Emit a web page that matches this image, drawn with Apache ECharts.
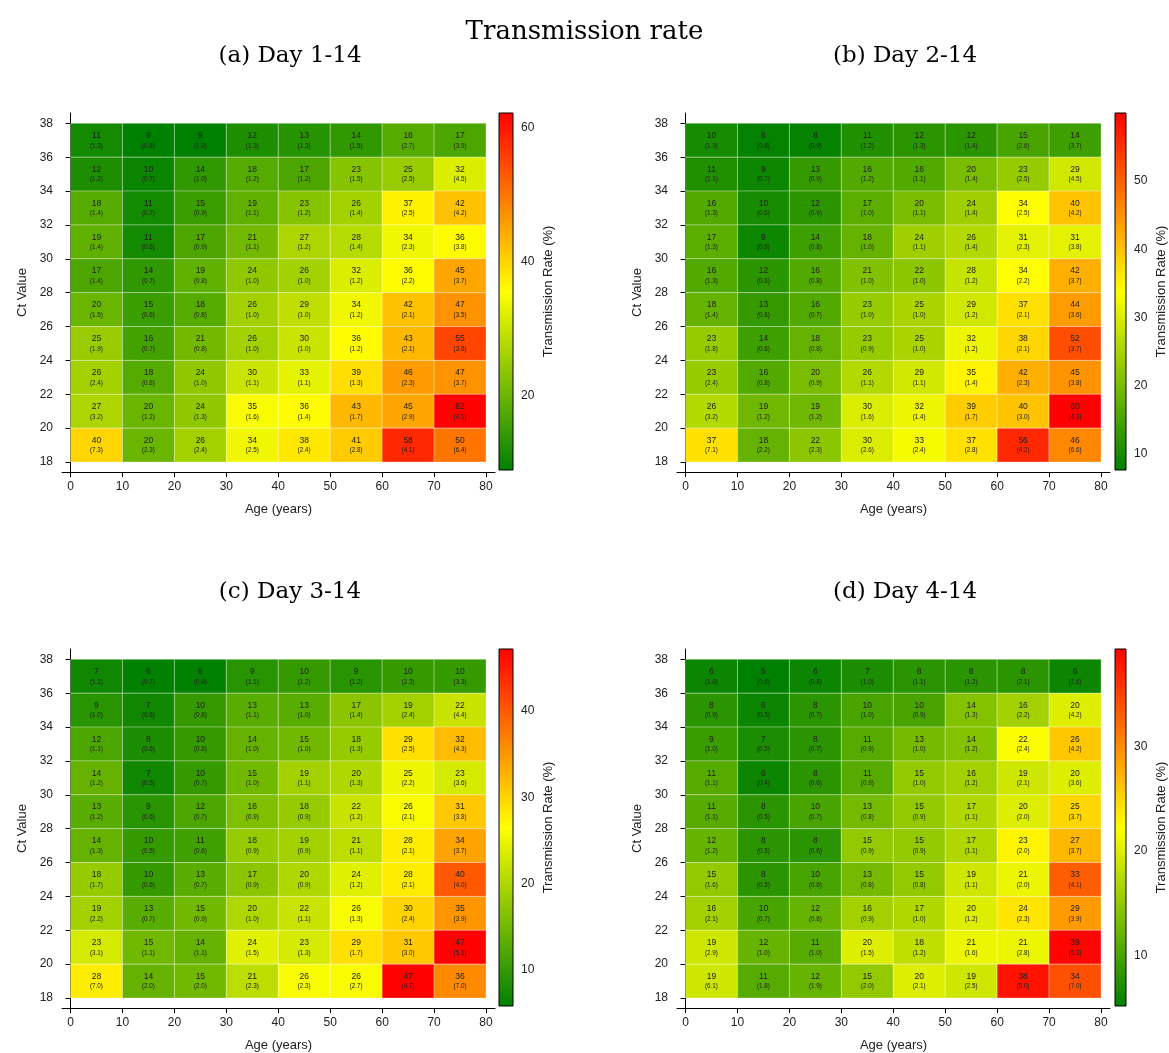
<!DOCTYPE html>
<html><head><meta charset="utf-8">
<script src="https://cdn.jsdelivr.net/npm/echarts@6/dist/echarts.min.js"></script>
<style>html,body{margin:0;padding:0;background:#fff}#c{width:1169px;height:1053px}</style>
</head><body><div id="c"></div>
<script>
// ---- data ----
const ageBins = [0, 10, 20, 30, 40, 50, 60, 70];          // bin starts (width 10)
const ctBins = [36, 34, 32, 30, 28, 26, 24, 22, 20, 18];  // bin starts (width 2), top row first
const xTicks = [0, 10, 20, 30, 40, 50, 60, 70, 80];
const yTicks = [18, 20, 22, 24, 26, 28, 30, 32, 34, 36, 38];
const panelTitles = ['(a) Day 1-14', '(b) Day 2-14', '(c) Day 3-14', '(d) Day 4-14'];

const rateA = [
  [11, 9, 9, 12, 13, 14, 18, 17],
  [12, 10, 14, 18, 17, 23, 25, 32],
  [18, 11, 15, 19, 23, 26, 37, 42],
  [19, 11, 17, 21, 27, 28, 34, 36],
  [17, 14, 19, 24, 26, 32, 36, 45],
  [20, 15, 18, 26, 29, 34, 42, 47],
  [25, 16, 21, 26, 30, 36, 43, 55],
  [26, 18, 24, 30, 33, 39, 46, 47],
  [27, 20, 24, 35, 36, 43, 45, 62],
  [40, 20, 26, 34, 38, 41, 58, 50]
];
const seA = [
  [1.3, 0.8, 1.0, 1.3, 1.3, 1.5, 2.7, 3.9],
  [1.2, 0.7, 1.0, 1.2, 1.2, 1.5, 2.5, 4.5],
  [1.4, 0.7, 0.9, 1.1, 1.2, 1.4, 2.5, 4.2],
  [1.4, 0.6, 0.9, 1.1, 1.2, 1.4, 2.3, 3.8],
  [1.4, 0.7, 0.8, 1.0, 1.0, 1.2, 2.2, 3.7],
  [1.5, 0.6, 0.8, 1.0, 1.0, 1.2, 2.1, 3.5],
  [1.9, 0.7, 0.8, 1.0, 1.0, 1.2, 2.1, 3.6],
  [2.4, 0.8, 1.0, 1.1, 1.1, 1.3, 2.3, 3.7],
  [3.2, 1.2, 1.3, 1.6, 1.4, 1.7, 2.9, 4.1],
  [7.3, 2.3, 2.4, 2.5, 2.4, 2.8, 4.1, 6.4]
];
const rateB = [
  [10, 8, 8, 11, 12, 12, 15, 14],
  [11, 9, 13, 16, 16, 20, 23, 29],
  [16, 10, 12, 17, 20, 24, 34, 40],
  [17, 9, 14, 18, 24, 26, 31, 31],
  [16, 12, 16, 21, 22, 28, 34, 42],
  [18, 13, 16, 23, 25, 29, 37, 44],
  [23, 14, 18, 23, 25, 32, 38, 52],
  [23, 16, 20, 26, 29, 35, 42, 45],
  [26, 19, 19, 30, 32, 39, 40, 60],
  [37, 18, 22, 30, 33, 37, 56, 46]
];
const seB = [
  [1.3, 0.8, 0.9, 1.2, 1.3, 1.4, 2.6, 3.7],
  [1.1, 0.7, 0.9, 1.2, 1.1, 1.4, 2.5, 4.5],
  [1.3, 0.6, 0.9, 1.0, 1.1, 1.4, 2.5, 4.2],
  [1.3, 0.6, 0.8, 1.0, 1.1, 1.4, 2.3, 3.8],
  [1.3, 0.6, 0.8, 1.0, 1.0, 1.2, 2.2, 3.7],
  [1.4, 0.6, 0.7, 1.0, 1.0, 1.2, 2.1, 3.6],
  [1.8, 0.6, 0.8, 0.9, 1.0, 1.2, 2.1, 3.7],
  [2.4, 0.8, 0.9, 1.1, 1.1, 1.4, 2.3, 3.8],
  [3.2, 1.2, 1.2, 1.6, 1.4, 1.7, 3.0, 4.3],
  [7.1, 2.2, 2.3, 2.6, 2.4, 2.8, 4.2, 6.6]
];
const rateC = [
  [7, 6, 6, 9, 10, 9, 10, 10],
  [9, 7, 10, 13, 13, 17, 19, 22],
  [12, 8, 10, 14, 15, 18, 29, 32],
  [14, 7, 10, 15, 19, 20, 25, 23],
  [13, 9, 12, 16, 18, 22, 26, 31],
  [14, 10, 11, 18, 19, 21, 28, 34],
  [18, 10, 13, 17, 20, 24, 28, 40],
  [19, 13, 15, 20, 22, 26, 30, 35],
  [23, 15, 14, 24, 23, 29, 31, 47],
  [28, 14, 15, 21, 26, 26, 47, 36]
];
const seC = [
  [1.1, 0.7, 0.9, 1.1, 1.2, 1.2, 2.3, 3.3],
  [1.0, 0.6, 0.8, 1.1, 1.0, 1.4, 2.4, 4.4],
  [1.1, 0.6, 0.8, 1.0, 1.0, 1.3, 2.5, 4.3],
  [1.2, 0.5, 0.7, 1.0, 1.1, 1.3, 2.2, 3.6],
  [1.2, 0.6, 0.7, 0.9, 0.9, 1.2, 2.1, 3.8],
  [1.3, 0.5, 0.6, 0.9, 0.9, 1.1, 2.1, 3.7],
  [1.7, 0.6, 0.7, 0.9, 0.9, 1.2, 2.1, 4.0],
  [2.2, 0.7, 0.9, 1.0, 1.1, 1.3, 2.4, 3.9],
  [3.1, 1.1, 1.1, 1.5, 1.3, 1.7, 3.0, 5.1],
  [7.0, 2.0, 2.0, 2.3, 2.3, 2.7, 4.7, 7.0]
];
const rateD = [
  [6, 5, 6, 7, 8, 8, 8, 6],
  [8, 6, 8, 10, 10, 14, 16, 20],
  [9, 7, 8, 11, 13, 14, 22, 26],
  [11, 6, 8, 11, 15, 16, 19, 20],
  [11, 8, 10, 13, 15, 17, 20, 25],
  [12, 8, 8, 15, 15, 17, 23, 27],
  [15, 8, 10, 13, 15, 19, 21, 33],
  [16, 10, 12, 16, 17, 20, 24, 29],
  [19, 12, 11, 20, 18, 21, 21, 39],
  [19, 11, 12, 15, 20, 19, 38, 34]
];
const seD = [
  [1.0, 0.6, 0.8, 1.0, 1.1, 1.2, 2.1, 2.6],
  [0.9, 0.5, 0.7, 1.0, 0.9, 1.3, 2.2, 4.2],
  [1.0, 0.5, 0.7, 0.9, 1.0, 1.2, 2.4, 4.2],
  [1.1, 0.4, 0.6, 0.9, 1.0, 1.2, 2.1, 3.6],
  [1.1, 0.5, 0.7, 0.8, 0.9, 1.1, 2.0, 3.7],
  [1.2, 0.5, 0.6, 0.9, 0.9, 1.1, 2.0, 3.7],
  [1.6, 0.5, 0.6, 0.8, 0.8, 1.1, 2.0, 4.1],
  [2.1, 0.7, 0.8, 0.9, 1.0, 1.2, 2.3, 3.9],
  [2.9, 1.0, 1.0, 1.5, 1.2, 1.6, 2.8, 5.3],
  [6.1, 1.8, 1.9, 2.0, 2.1, 2.5, 5.0, 7.0]
];
// colour-scale ranges and colourbar ticks
const colorMin = [9.0, 7.6, 5.8, 5.2];
const colorMax = [62.2, 60.0, 47.2, 39.3];
const cbarTicks = [[20, 40, 60], [10, 20, 30, 40, 50], [10, 20, 30, 40], [10, 20, 30]];

const rates = [rateA, rateB, rateC, rateD];
const ses = [seA, seB, seC, seD];

// ---- layout ----
const offX = [0, 615, 0, 615];
const offY = [0, 0, 536, 536];
const FONT = 'Liberation Sans, Arial, sans-serif';
const SERIF = 'DejaVu Serif, serif';
const cmap = ['#008000', '#ffff00', '#ff0000'];

const grids = [], xAxes = [], yAxes = [], series = [], visualMaps = [], titles = [];

titles.push({text: 'Transmission rate', left: 'center', top: 14,
  textStyle: {fontFamily: SERIF, fontSize: 26, fontWeight: 'normal', color: '#000'}});

for (let p = 0; p < 4; p++) {
  const ox = offX[p], oy = offY[p];
  titles.push({text: panelTitles[p], left: 285 + ox, top: 40 + oy, textAlign: 'center',
    textStyle: {fontFamily: SERIF, fontSize: 23, fontWeight: 'normal', color: '#000'}});

  // heatmap grid
  const gi = grids.length;
  grids.push({left: 62 + ox, top: 113 + oy, width: 433, height: 359});
  xAxes.push({type: 'value', gridIndex: gi, min: -1.64, max: 81.73,
    axisLine: {show: true, lineStyle: {color: '#000', width: 1}},
    axisTick: {show: true, length: 5, customValues: xTicks, lineStyle: {color: '#000'}},
    axisLabel: {customValues: xTicks, color: '#222', fontSize: 12, fontFamily: FONT, margin: 9},
    splitLine: {show: false},
    name: 'Age (years)', nameLocation: 'middle', nameGap: 31,
    nameTextStyle: {color: '#222', fontSize: 13, fontFamily: FONT}});
  yAxes.push({type: 'value', gridIndex: gi, min: 17.41, max: 38.61,
    axisLine: {show: true, lineStyle: {color: '#000', width: 1}},
    axisTick: {show: true, length: 5, customValues: yTicks, lineStyle: {color: '#000'}},
    axisLabel: {customValues: yTicks, color: '#222', fontSize: 12, fontFamily: FONT, margin: 9},
    splitLine: {show: false},
    name: 'Ct Value', nameLocation: 'middle', nameGap: 33, nameRotate: 90,
    nameTextStyle: {color: '#222', fontSize: 13, fontFamily: FONT}});

  const data = [];
  rates[p].forEach((row, i) => row.forEach((v, j) => {
    data.push([ageBins[j], ctBins[i], v, ses[p][i][j]]);
  }));
  const si = series.length;
  series.push({type: 'custom', xAxisIndex: gi, yAxisIndex: gi, data: data,
    encode: {x: 0, y: 1},
    renderItem: function (params, api) {
      const x0 = api.value(0), y0 = api.value(1);
      const a = api.coord([x0, y0 + 2]);
      const b = api.coord([x0 + 10, y0]);
      const cx = (a[0] + b[0]) / 2, cy = (a[1] + b[1]) / 2;
      return {type: 'group', children: [
        {type: 'rect', shape: {x: a[0], y: a[1], width: b[0] - a[0], height: b[1] - a[1]},
          style: {fill: api.visual('color'), stroke: 'rgba(255,255,255,0.3)', lineWidth: 1}},
        {type: 'text', x: cx, y: cy - 4.6,
          style: {text: String(api.value(2)), fill: '#222', fontSize: 8.5, fontFamily: FONT,
            align: 'center', verticalAlign: 'middle'}},
        {type: 'text', x: cx, y: cy + 5.6,
          style: {text: '(' + api.value(3).toFixed(1) + ')', fill: '#222', fontSize: 6.3, fontFamily: FONT,
            align: 'center', verticalAlign: 'middle'}}
      ]};
    }});
  visualMaps.push({type: 'continuous', show: false, seriesIndex: si, dimension: 2,
    min: colorMin[p], max: colorMax[p], inRange: {color: cmap}});

  // colourbar grid
  const ci = grids.length;
  grids.push({left: 499 + ox + (p % 2), top: 113 + oy, width: 14, height: 357});
  xAxes.push({type: 'value', gridIndex: ci, min: 0, max: 1, show: false});
  yAxes.push({type: 'value', gridIndex: ci, position: 'right', min: colorMin[p], max: colorMax[p],
    axisLine: {show: false},
    axisTick: {show: true, length: 5, customValues: cbarTicks[p], lineStyle: {color: '#000'}},
    axisLabel: {customValues: cbarTicks[p], color: '#222', fontSize: 12, fontFamily: FONT, margin: 8},
    splitLine: {show: false},
    name: 'Transmission Rate (%)', nameLocation: 'middle', nameGap: 29, nameRotate: 90,
    nameTextStyle: {color: '#222', fontSize: 13, fontFamily: FONT}});
  series.push({type: 'custom', xAxisIndex: ci, yAxisIndex: ci, silent: true,
    data: [[0, colorMin[p], 1, colorMax[p]]],
    renderItem: function (params, api) {
      const a = api.coord([api.value(0), api.value(3)]);
      const b = api.coord([api.value(2), api.value(1)]);
      return {type: 'rect', shape: {x: a[0], y: a[1], width: b[0] - a[0], height: b[1] - a[1]},
        style: {fill: new echarts.graphic.LinearGradient(0, 1, 0, 0, [
          {offset: 0, color: cmap[0]}, {offset: 0.5, color: cmap[1]}, {offset: 1, color: cmap[2]}]),
          stroke: '#000', lineWidth: 1}};
    }});
}

const chart = echarts.init(document.getElementById('c'), null, {renderer: 'canvas'});
chart.setOption({
  backgroundColor: '#fff',
  animation: false,
  title: titles,
  grid: grids,
  xAxis: xAxes,
  yAxis: yAxes,
  visualMap: visualMaps,
  series: series
});
</script>
</body></html>
